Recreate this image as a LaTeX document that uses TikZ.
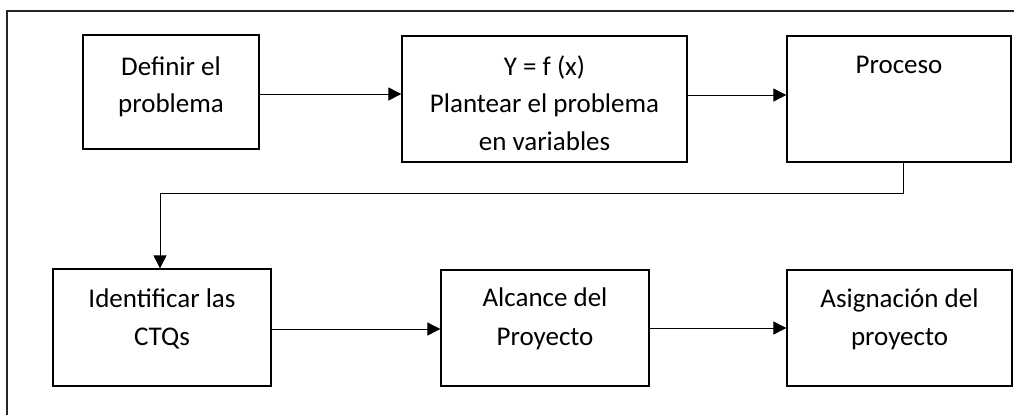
\documentclass[tikz,border=0pt]{standalone}
\usepackage{fontspec}
\setmainfont{Carlito}
\usetikzlibrary{arrows.meta}
\begin{document}
\begin{tikzpicture}[x=1pt,y=-1pt,
  box/.style={draw, line width=1.3pt, inner sep=0pt},
  txt/.style={anchor=base, inner sep=0pt, font=\fontsize{27}{37}\selectfont},
  conn/.style={line width=0.9pt, -{Triangle[length=13pt,width=13pt]}}]
\useasboundingbox (0,0) rectangle (1014,415);
\draw[line width=1.2pt, black!85] (7,415) -- (7,11) -- (1014,11);
% boxes
\node[box, minimum width=176pt, minimum height=114pt] (b1) at (171,92) {};
\node[box, minimum width=285pt, minimum height=126pt] (b2) at (544.5,99) {};
\node[box, minimum width=224pt, minimum height=126pt] (b3) at (899,99) {};
\node[box, minimum width=218pt, minimum height=117pt] (b4) at (162,327.5) {};
\node[box, minimum width=208pt, minimum height=116pt] (b5) at (545,328) {};
\node[box, minimum width=225pt, minimum height=116pt] (b6) at (899.5,328) {};
% texts
\node[txt] (t1a) at (171,75) {Definir el};
\node[txt] (t1b) at (171,112) {problema};
\node[txt] (t2a) at (544.5,75) {Y = f (x)};
\node[txt] (t2b) at (544.5,112) {Plantear el problema};
\node[txt] (t2c) at (544.5,150) {en variables};
\node[txt] (t3a) at (899,73) {Proceso};
\node[txt] (t4a) at (162,307) {Identificar las};
\node[txt] (t4b) at (162,345) {CTQs};
\node[txt] (t5a) at (545,306) {Alcance del};
\node[txt] (t5b) at (545,345) {Proyecto};
\node[txt] (t6a) at (899.5,307) {Asignación del};
\node[txt] (t6b) at (899.5,345) {proyecto};
% connectors
\draw[conn] ([yshift=-2pt]b1.east) -- ([yshift=-2pt]b1.east -| b2.west);
\draw[conn] ([yshift=4pt]b2.east) -- ([yshift=4pt]b3.west);
\coordinate (elbow) at (160,193);
\draw[conn] ([xshift=4pt]b3.south) |- (elbow) -- (elbow |- b4.north);
\draw[conn] ([yshift=-1.5pt]b4.east) -- ([yshift=-1.5pt]b4.east -| b5.west);
\draw[conn] (b5.east) -- (b6.west);
\end{tikzpicture}
\end{document}
